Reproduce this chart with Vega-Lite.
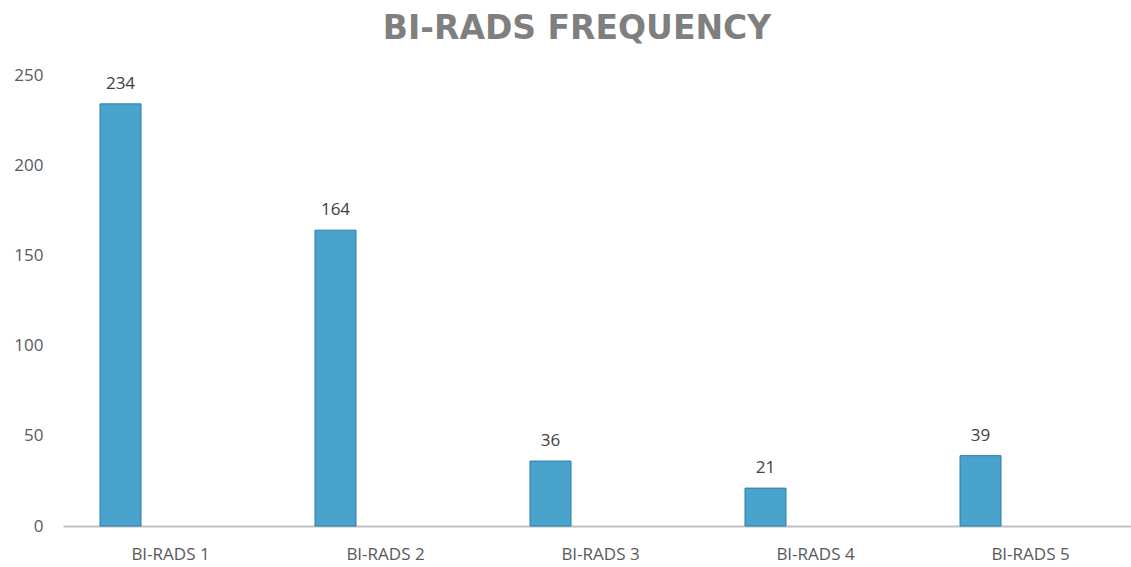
{
  "$schema": "https://vega.github.io/schema/vega-lite/v6.json",
  "autosize": "none",
  "padding": {"left": 63, "top": 75, "right": 0, "bottom": 41},
  "width": 1075,
  "height": 451,
  "background": "white",
  "title": {
    "text": "BI-RADS FREQUENCY",
    "anchor": "start",
    "dx": 369,
    "offset": 20,
    "font": "DejaVu Sans",
    "fontSize": 33,
    "fontWeight": "bold",
    "color": "#7f7f7f"
  },
  "data": {
    "values": [
      {"category": "BI-RADS 1", "count": 234},
      {"category": "BI-RADS 2", "count": 164},
      {"category": "BI-RADS 3", "count": 36},
      {"category": "BI-RADS 4", "count": 21},
      {"category": "BI-RADS 5", "count": 39}
    ]
  },
  "config": {
    "view": {"stroke": null},
    "axis": {"labelFont": "Open Sans", "labelColor": "#595959", "labelFontSize": 17}
  },
  "encoding": {
    "x": {
      "field": "category",
      "type": "nominal",
      "sort": null,
      "scale": {"paddingInner": 0, "paddingOuter": 0},
      "axis": {
        "title": null,
        "labelAngle": 0,
        "ticks": false,
        "domainColor": "#bfbfbf",
        "domainWidth": 2,
        "labelPadding": 20
      }
    },
    "y": {
      "field": "count",
      "type": "quantitative",
      "scale": {"domain": [0, 250]},
      "axis": {
        "title": null,
        "values": [0, 50, 100, 150, 200, 250],
        "domain": false,
        "ticks": false,
        "grid": false,
        "labelPadding": 20
      }
    }
  },
  "layer": [
    {
      "mark": {
        "type": "bar",
        "width": 41,
        "xOffset": -50,
        "fill": "#4aa3cc",
        "stroke": "#2b7fa8",
        "strokeWidth": 1
      }
    },
    {
      "mark": {
        "type": "text",
        "xOffset": -50,
        "dy": -11,
        "baseline": "bottom",
        "font": "Open Sans",
        "fontSize": 17,
        "color": "#404040"
      },
      "encoding": {"text": {"field": "count", "type": "quantitative"}}
    }
  ]
}
